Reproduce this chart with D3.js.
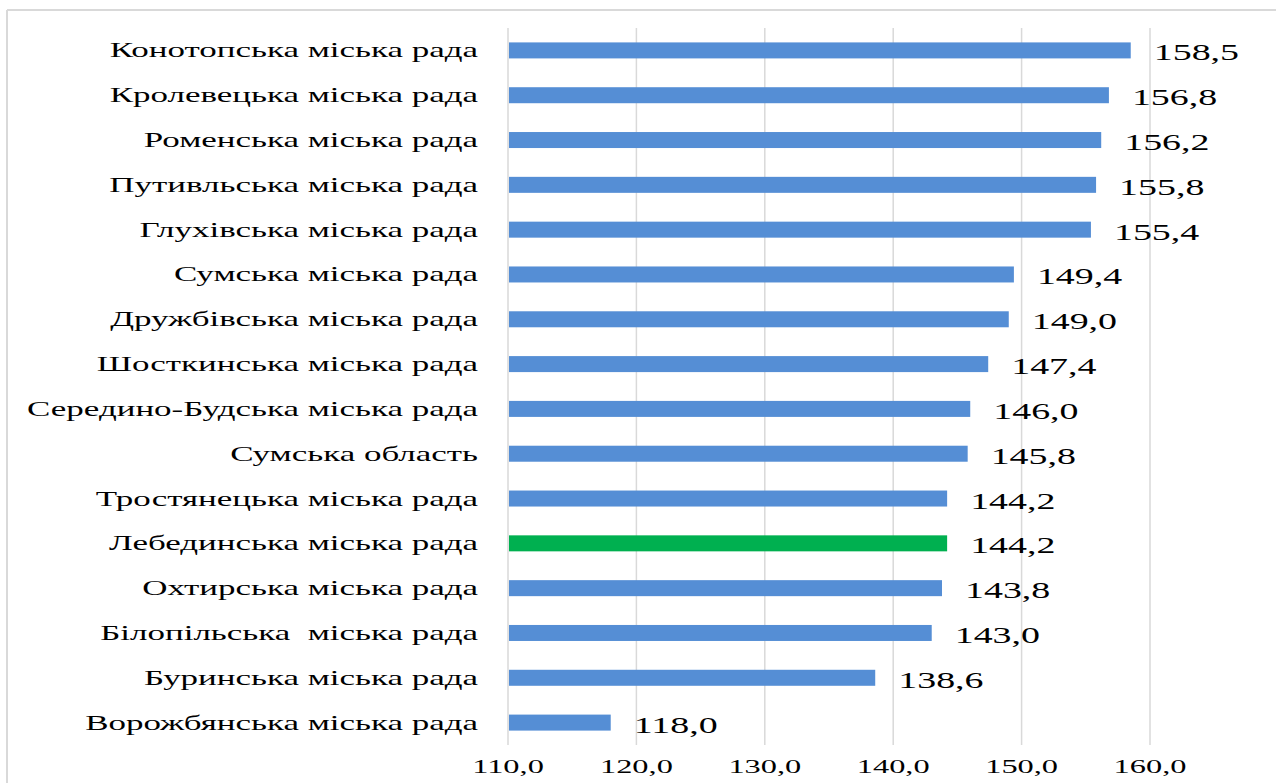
<!DOCTYPE html>
<html><head><meta charset="utf-8">
<script src="https://cdn.jsdelivr.net/npm/d3@7"></script>
<style>html,body{margin:0;padding:0;background:#fff;}svg{display:block;}</style>
</head><body>
<svg id="c" width="1276" height="783"></svg>
<script>
const categories = ["Конотопська міська рада","Кролевецька міська рада","Роменська міська рада","Путивльська міська рада","Глухівська міська рада","Сумська міська рада","Дружбівська міська рада","Шосткинська міська рада","Середино-Будська міська рада","Сумська область","Тростянецька міська рада","Лебединська міська рада","Охтирська міська рада","Білопільська  міська рада","Буринська міська рада","Ворожбянська міська рада"];
const values = [158.5,156.8,156.2,155.8,155.4,149.4,149.0,147.4,146.0,145.8,144.2,144.2,143.8,143.0,138.6,118.0];
const highlight = ["Лебединська міська рада"];
const tickValues = [110,120,130,140,150,160];

const svg = d3.select("#c");
const fmt = v => v.toFixed(1).replace(".", ",");
const font = "'Liberation Serif','Times New Roman',serif";

// frame
svg.append("line").attr("x1",7).attr("x2",1276).attr("y1",10).attr("y2",10).attr("stroke","#d9d9d9").attr("stroke-width",2);
svg.append("line").attr("x1",7).attr("x2",7).attr("y1",10).attr("y2",783).attr("stroke","#d9d9d9").attr("stroke-width",2);

const x = d3.scaleLinear().domain([110,160]).range([508,1150]);
const y = d3.scaleBand().domain(categories).range([28,745]).paddingInner(0.643).paddingOuter(0.3215);

// gridlines
svg.append("g").selectAll("line").data(tickValues).join("line")
  .attr("x1",d=>x(d)).attr("x2",d=>x(d)).attr("y1",28).attr("y2",745)
  .attr("stroke","#d9d9d9").attr("stroke-width",1.5);

// bars
svg.append("g").selectAll("rect").data(categories).join("rect")
  .attr("x",x(110)+1).attr("y",d=>y(d))
  .attr("width",(d,i)=>x(values[i])-x(110)-1).attr("height",y.bandwidth())
  .attr("fill",d=>highlight.includes(d)?"#00b050":"#558ed5");

const sxL = 1.59, sxV = 1.58, sxT = 1.8;
// category labels
svg.append("g").selectAll("text").data(categories).join("text")
  .attr("transform",d=>`translate(478,${y(d)+y.bandwidth()/2+7}) scale(${sxL},1)`)
  .attr("text-anchor","end").attr("font-family",font).attr("font-size",22).attr("fill","#000")
  .attr("xml:space","preserve").style("white-space","pre")
  .text(d=>d);

// value labels
svg.append("g").selectAll("text").data(categories).join("text")
  .attr("transform",(d,i)=>`translate(${x(values[i])+23},${y(d)+y.bandwidth()/2+10}) scale(${sxV},1)`)
  .attr("font-family",font).attr("font-size",24).attr("fill","#000")
  .text((d,i)=>fmt(values[i]));

// tick labels
svg.append("g").selectAll("text").data(tickValues).join("text")
  .attr("transform",d=>`translate(${x(d)},773) scale(${sxT},1)`)
  .attr("text-anchor","middle").attr("font-family",font).attr("font-size",18).attr("fill","#000")
  .text(d=>fmt(d));
</script>
</body></html>
